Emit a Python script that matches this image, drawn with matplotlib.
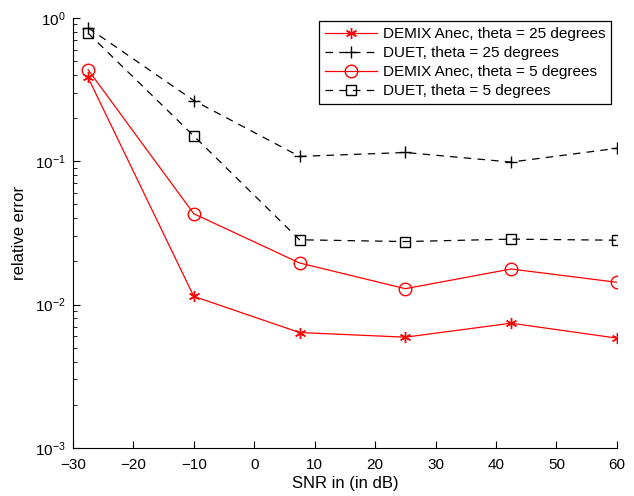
import numpy as np
import matplotlib
matplotlib.use('Agg')
import matplotlib.pyplot as plt

plt.rcParams['font.family'] = ['Liberation Sans', 'DejaVu Sans']

# SNR points (dB)
snr = [-27.5, -10, 7.5, 25, 42.5, 60]

# relative error
demix_25 = [0.384, 0.0114, 0.00638, 0.00592, 0.00741, 0.00583]
duet_25 = [0.853, 0.265, 0.108, 0.115, 0.0986, 0.123]
demix_5 = [0.435, 0.043, 0.0195, 0.0129, 0.0177, 0.0143]
duet_5 = [0.783, 0.150, 0.0283, 0.0275, 0.0286, 0.0281]

labels = ['DEMIX Anec, theta = 25 degrees', 'DUET, theta = 25 degrees',
          'DEMIX Anec, theta = 5 degrees', 'DUET, theta = 5 degrees']

fig = plt.figure(figsize=(6.34, 4.96), dpi=100)
ax = fig.add_axes([0.115, 0.097, 0.858, 0.867])

ax.semilogy(snr, demix_25, '-', color='red', marker=(6, 2, 0), markersize=8, mew=1.0, lw=0.9, label=labels[0])
ax.semilogy(snr, duet_25, '--', color='black', marker='+', markersize=9, lw=0.9,
            dashes=(6, 5), label=labels[1])
ax.semilogy(snr, demix_5, '-', color='red', marker='o', markersize=9, mfc='none', lw=0.9, label=labels[2])
ax.semilogy(snr, duet_5, '--', color='black', marker='s', markersize=6.5, mfc='none', lw=0.9,
            dashes=(6, 5), label=labels[3])

ax.set_xlim(-30, 60)
ax.set_ylim(1e-3, 1)
ax.set_xticks(np.arange(-30, 61, 10))
ax.set_xticklabels(['\u221230', '\u221220', '\u221210', '0', '10', '20', '30', '40', '50', '60'])
ax.spines['top'].set_visible(False)
ax.spines['right'].set_visible(False)
ax.tick_params(which='both', direction='in', labelsize=11)
ax.tick_params(which='major', length=5)
ax.tick_params(which='minor', length=3)
ax.tick_params(axis='x', pad=7)
ax.tick_params(axis='y', pad=5)
ax.set_xlabel('SNR in (in dB)', fontsize=12, labelpad=3)
ax.set_ylabel('relative error', fontsize=12, labelpad=6)

leg = ax.legend(loc='upper right', bbox_to_anchor=(0.99, 0.992), fontsize=11,
                fancybox=False, edgecolor='black', framealpha=1, handlelength=3.4,
                borderpad=0.4, labelspacing=0.32, handletextpad=0.4, borderaxespad=0)
leg.get_frame().set_linewidth(0.9)

fig.savefig('out.png', dpi=100)
